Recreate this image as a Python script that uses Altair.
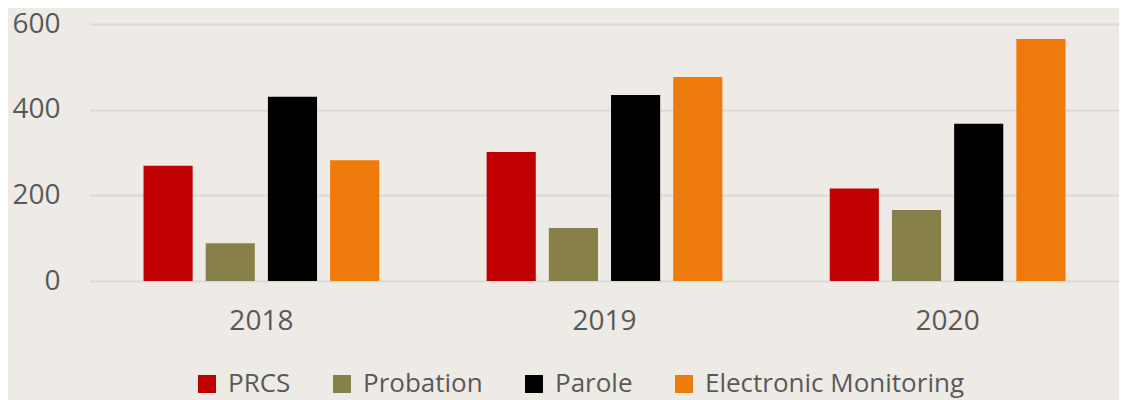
import altair as alt
import pandas as pd

years = ["2018", "2019", "2020"]
series = ["PRCS", "Probation", "Parole", "Electronic Monitoring"]
prcs = [269, 301, 216]
probation = [88, 124, 166]
parole = [430, 434, 367]
electronic = [282, 476, 565]
colors = ["#c00000", "#888049", "#000000", "#ee7a0b"]
y_ticks = [0, 200, 400, 600]

rows = []
for s, vals in zip(series, [prcs, probation, parole, electronic]):
    for yr, v in zip(years, vals):
        rows.append({"year": yr, "series": s, "value": v})
df = pd.DataFrame(rows)

FONT = "Open Sans"
TXT = "#595959"

chart = alt.Chart(df).mark_bar().encode(
    x=alt.X("year:N", sort=years,
            scale=alt.Scale(paddingInner=0.313, paddingOuter=0.156),
            axis=alt.Axis(title=None, labelAngle=0, domain=False, ticks=False,
                          labelPadding=26, labelFontSize=28, labelColor=TXT,
                          labelFont=FONT, grid=False)),
    xOffset=alt.XOffset("series:N", sort=series,
                        scale=alt.Scale(paddingInner=0.21, paddingOuter=0)),
    y=alt.Y("value:Q", scale=alt.Scale(domain=[0, 600]),
            axis=alt.Axis(title=None, values=y_ticks, domain=False, ticks=False,
                          labelPadding=30, labelFontSize=28, labelColor=TXT,
                          labelFont=FONT, gridColor="#d9d9d9", gridWidth=2)),
    color=alt.Color("series:N", sort=series,
                    scale=alt.Scale(domain=series, range=colors),
                    legend=alt.Legend(title=None, orient="none", direction="horizontal",
                                      legendX=104, legendY=347, symbolType="square",
                                      symbolSize=324, symbolStrokeWidth=0,
                                      labelFontSize=26, labelFont=FONT, labelColor=TXT,
                                      labelOffset=8, columnPadding=38, padding=0,
                                      labelLimit=0)),
).properties(
    width=1029, height=257,
    autosize=alt.AutoSizeParams(type="none"),
    padding={"left": 82, "top": 16, "right": 0, "bottom": 119},
    background="#eeeae6",
).configure_view(stroke=None)

chart.save("out.html", embed_options={"renderer": "svg", "actions": False})
